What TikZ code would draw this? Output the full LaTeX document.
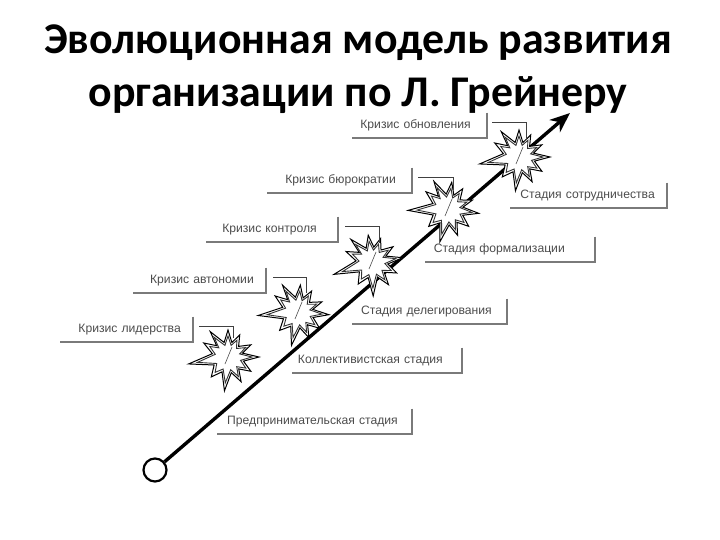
\documentclass[tikz,border=0pt]{standalone}
\usepackage{fontspec}
\setmainfont{Liberation Sans}
\newfontfamily\titlefont{Carlito}
\usetikzlibrary{arrows.meta}
\definecolor{shadowc}{gray}{0.48}
\definecolor{textc}{gray}{0.3}
\tikzset{
  x=1bp,y=-1bp,
  titletext/.style={font=\titlefont\bfseries\fontsize{44}{52}\selectfont,text=black,inner sep=0pt,align=center},
  tagbox/.style={inner ysep=0pt,inner xsep=0pt,anchor=south east,font=\fontsize{12.2}{14}\selectfont,text=textc,minimum height=25bp,align=right},
  edgeline/.style={draw=shadowc,line width=2.6bp},
  leader/.style={draw=black!75,line width=.7bp},
}
\newcommand{\tagL}[6]{% name, x, y, width, right margin, text
  \node[tagbox,text width=#4bp] (#1) at (#2,#3) {\mbox{#6\hspace{#5bp}}};
  \draw[edgeline] (#1.north east) -- (#1.south east) -- (#1.south west);
}
\newcommand{\burst}[5]{% name, x, y, rotation, attachment x offset
  \coordinate (#1) at (#2,#3);
  \coordinate (#1t) at (#2+#5,#3-19);
  \begin{scope}[shift={(#1)},rotate=#4]
    \filldraw[fill=white,draw=black,line width=1bp,line join=miter,miter limit=8]
      (-90:27) -- (-75:15) -- (-62:25) -- (-45:15) -- (-28:26) -- (-15:15) -- (0:31) -- (15:16) -- (32:27) -- (48:16) -- (62:28) -- (78:16) -- (96:34) -- (112:16) -- (130:26) -- (150:16) -- (170:40) -- (-168:16) -- (-150:28) -- (-135:16) -- (-125:31) -- (-105:15) -- cycle;
    \draw[draw=black!80,line width=.9bp,line join=miter,miter limit=8]
      (-90:21) -- (-75:12) -- (-62:19) -- (-45:12) -- (-28:20) -- (-15:12) -- (0:24) -- (15:13) -- (32:21) -- (48:13) -- (62:22) -- (78:13) -- (96:26) -- (112:13) -- (130:20) -- (150:13) -- (170:31) -- (-168:13) -- (-150:21) -- (-135:13) -- (-125:24) -- (-105:12) -- cycle;
  \end{scope}
}
\begin{document}
\begin{tikzpicture}
\useasboundingbox (0,0) rectangle (720,540);
\node[titletext] (t1) at (358,43) {Эволюционная модель развития};
\node[titletext] (t2) at (358,95) {организации по Л. Грейнеру};

\node[circle,draw=black,line width=2.2bp,fill=white,minimum size=23bp,inner sep=0pt] (start) at (155,470) {};
\coordinate (tip) at (570,113);
\draw[line width=3.4bp,-{Stealth[length=20bp,width=16bp,inset=6bp]}] (start) -- (tip);

\tagL{c5}{487}{138}{135}{16}{Кризис обновления}
\tagL{c4}{412}{193}{145}{16}{Кризис бюрократии}
\tagL{c3}{338}{242}{132}{21}{Кризис контроля}
\tagL{c2}{266}{293}{133}{12}{Кризис автономии}
\tagL{c1}{193}{342}{133}{12}{Кризис лидерства}

\tagL{s5}{667}{208}{157}{12}{Стадия сотрудничества}
\tagL{s4}{595}{262}{170}{30}{Стадия формализации}
\tagL{s3}{507}{324}{155}{15}{Стадия делегирования}
\tagL{s2}{462}{373}{170}{19}{Коллективистская стадия}
\tagL{s1}{412}{434}{195}{14}{Предпринимательская стадия}

\burst{b5}{519}{157}{0}{7}
\burst{b4}{448}{209}{-8}{5}
\burst{b3}{372}{262}{8}{7}
\burst{b2}{298}{312}{-5}{8}
\burst{b1}{228}{357}{0}{5}

\coordinate (l5) at (492,122);
\coordinate (l4) at (418,177);
\coordinate (l3) at (345,226);
\coordinate (l2) at (273,277);
\coordinate (l1) at (199,326);
\foreach \n in {1,...,5}{
  \draw[leader] (l\n) -| (b\n t);
  \draw[draw=black!70,line width=.6bp] (b\n) ++(-3,7) -- ++(7,-17);
}
\end{tikzpicture}
\end{document}
